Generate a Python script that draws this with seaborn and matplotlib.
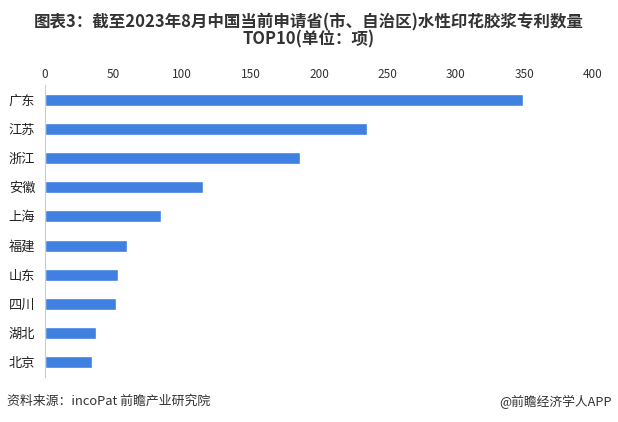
import matplotlib
matplotlib.use("Agg")
import matplotlib.pyplot as plt
import seaborn as sns
import pandas as pd

categories = ["广东", "江苏", "浙江", "安徽", "上海", "福建", "山东", "四川", "湖北", "北京"]
values = [349, 235, 186, 115, 85, 60, 53, 52, 37, 34]
x_ticks = [0, 50, 100, 150, 200, 250, 300, 350, 400]

title = "图表3：截至2023年8月中国当前申请省(市、自治区)水性印花胶浆专利数量\nTOP10(单位：项)"
source = "资料来源：incoPat 前瞻产业研究院"
credit = "@前瞻经济学人APP"

sns.set_theme(style="white")
plt.rcParams['font.family'] = ['Noto Sans CJK SC', 'DejaVu Sans']

df = pd.DataFrame({"省份": categories, "数量": values})

fig = plt.figure(figsize=(6.18, 4.22), dpi=100)
ax = fig.add_axes([0.0728, 0.1066, 0.8867, 0.692])

sns.barplot(data=df, x="数量", y="省份", color="#3f80e0", width=0.41,
            saturation=1, ax=ax, orient="h")

ax.set_xlim(0, 400)
ax.set_ylim(9.5, -0.5)
ax.set_xticks(x_ticks)
ax.xaxis.tick_top()
ax.tick_params(axis="x", length=0, pad=3, labelsize=8.5, colors="#333333")
ax.tick_params(axis="y", length=0, pad=7, labelsize=9.5, colors="#222222")
ax.set_xlabel("")
ax.set_ylabel("")
for s in ["top", "right", "bottom"]:
    ax.spines[s].set_visible(False)
ax.spines["left"].set_color("#c8ccd4")
ax.spines["left"].set_linewidth(0.8)
ax.grid(False)

fig.text(0.5, 0.927, title, ha="center", va="center", fontsize=11.9,
         fontweight="bold", color="#333333", linespacing=0.95)
fig.text(0.012, 0.048, source, ha="left", va="center", fontsize=9.3, color="#333333")
fig.text(0.99, 0.048, credit, ha="right", va="center", fontsize=9.2, color="#333333")

fig.savefig("out.png", dpi=100, facecolor="white")
